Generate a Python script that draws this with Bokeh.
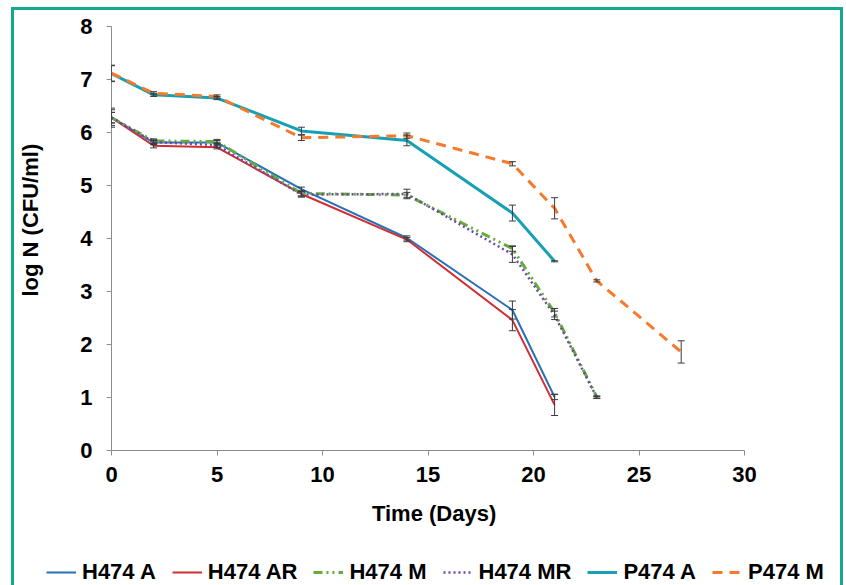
from bokeh.plotting import figure
from bokeh.models import ColumnDataSource, Whisker, TeeHead, Legend, LegendItem, FixedTicker
from bokeh.embed import file_html
from bokeh.resources import INLINE

# ---- data ----
days_h_a = [0, 2, 5, 9, 14, 19, 21]
h474_a = [6.28, 5.81, 5.81, 4.93, 4.01, 2.65, 1.01]
h474_a_err = [0.18, 0.04, 0.04, 0.04, 0.04, 0.17, 0.05]

days_h_ar = [0, 2, 5, 9, 14, 19, 21]
h474_ar = [6.28, 5.75, 5.72, 4.84, 3.98, 2.46, 0.86]
h474_ar_err = [0.15, 0.04, 0.03, 0.04, 0.04, 0.2, 0.2]

days_h_m = [0, 2, 5, 9, 14, 19, 21, 23]
h474_m = [6.28, 5.84, 5.83, 4.85, 4.82, 3.81, 2.6, 1.01]
h474_m_err = [0.1, 0.04, 0.04, 0.05, 0.05, 0.05, 0.08, 0.02]

days_h_mr = [0, 2, 5, 9, 14, 19, 21, 23]
h474_mr = [6.28, 5.82, 5.76, 4.83, 4.84, 3.7, 2.55, 1.0]
h474_mr_err = [0.1, 0.04, 0.04, 0.05, 0.09, 0.15, 0.08, 0.02]

days_p_a = [0, 2, 5, 9, 14, 19, 21]
p474_a = [7.11, 6.71, 6.65, 6.03, 5.85, 4.48, 3.57]
p474_a_err = [0.15, 0.03, 0.03, 0.07, 0.1, 0.15, 0.01]

days_p_m = [0, 2, 5, 9, 14, 19, 21, 23, 27]
p474_m = [7.12, 6.74, 6.68, 5.9, 5.94, 5.41, 4.57, 3.2, 1.86]
p474_m_err = [0.15, 0.03, 0.03, 0.05, 0.05, 0.04, 0.2, 0.02, 0.21]

x_ticks = [0, 5, 10, 15, 20, 25, 30]
y_ticks = [0, 1, 2, 3, 4, 5, 6, 7, 8]

FONT = "Liberation Sans"
FS = "22px"
BORDER = "3px solid #14A88F"
NB = "\u00a0"

p = figure(width=832, height=543, x_range=(0, 30), y_range=(0, 8),
           output_backend="svg", toolbar_location=None,
           min_border_left=97, min_border_right=102, min_border_top=16, min_border_bottom=103,
           styles={"border-top": BORDER, "border-left": BORDER, "border-right": BORDER,
                   "margin-left": "11px", "margin-top": "7px"})
p.outline_line_color = None
p.xgrid.visible = False
p.ygrid.visible = False
p.background_fill_color = "white"
p.border_fill_color = "white"

for ax, ticks in ((p.xaxis[0], x_ticks), (p.yaxis[0], y_ticks)):
    ax.ticker = FixedTicker(ticks=ticks)
    ax.axis_line_color = "#8c8c8c"
    ax.major_tick_line_color = "#8c8c8c"
    ax.major_tick_in = 0
    ax.major_tick_out = 5
    ax.minor_tick_line_color = None
    ax.major_label_text_font = FONT
    ax.major_label_text_font_size = FS
    ax.major_label_text_font_style = "bold"
    ax.major_label_text_color = "black"
    ax.axis_label_text_font = FONT
    ax.axis_label_text_font_size = FS
    ax.axis_label_text_font_style = "bold"
    ax.axis_label_text_color = "black"

p.xaxis.axis_label = NB * 2 + "Time (Days)"
p.yaxis.axis_label = NB * 6 + "log N (CFU/ml)"
p.xaxis.major_label_standoff = 11
p.yaxis.major_label_standoff = 14
p.xaxis.axis_label_standoff = 16
p.yaxis.axis_label_standoff = 34

# legend strip below the chart (its lines use the same data, drawn out of view)
p2 = figure(width=832, height=60, x_range=(100, 101), y_range=(100, 101),
            output_backend="svg", toolbar_location=None,
            x_axis_location=None, y_axis_location=None,
            min_border=0, min_border_left=0, min_border_right=0,
            min_border_top=0, min_border_bottom=0,
            styles={"border-left": BORDER, "border-right": BORDER, "margin-left": "11px"})
p2.outline_line_color = None
p2.xgrid.visible = False
p2.ygrid.visible = False
p2.background_fill_color = "white"
p2.border_fill_color = "white"

series = [
    ("H474 A", days_h_a, h474_a, h474_a_err, "#2870B8", 2, None),
    ("H474 AR", days_h_ar, h474_ar, h474_ar_err, "#D02E32", 2, None),
    ("H474 M", days_h_m, h474_m, h474_m_err, "#64AC3C", 3, "9 4 2 4 2 4"),
    ("H474 MR", days_h_mr, h474_mr, h474_mr_err, "#6E48A8", 2.5, "2 3"),
    ("P474 A", days_p_a, p474_a, p474_a_err, "#15A0B4", 3, None),
    ("P474 M", days_p_m, p474_m, p474_m_err, "#F57A2C", 3, "10 7"),
]

items = []
for name, xs, ys, errs, color, lw, dash in series:
    src = ColumnDataSource(dict(x=xs, y=ys,
                                upper=[v + e for v, e in zip(ys, errs)],
                                lower=[v - e for v, e in zip(ys, errs)]))
    kw = dict(line_color=color, line_width=lw)
    if dash:
        kw["line_dash"] = dash
    p.line("x", "y", source=src, **kw)
    r2 = p2.line("x", "y", source=src, **kw)
    items.append(LegendItem(label=name, renderers=[r2]))
    w = Whisker(source=src, base="x", upper="upper", lower="lower",
                line_color="#3a3a3a", line_width=1,
                upper_head=TeeHead(size=7, line_color="#3a3a3a", line_width=1),
                lower_head=TeeHead(size=7, line_color="#3a3a3a", line_width=1))
    w.level = "overlay"
    p.add_layout(w)

lg = Legend(items=items, location=(32, 25),
            orientation="horizontal", glyph_width=30, glyph_height=20, label_height=20,
            label_standoff=6, padding=0, margin=0, spacing=16,
            border_line_alpha=0, background_fill_alpha=0,
            label_text_font=FONT, label_text_font_size=FS,
            label_text_font_style="bold", label_text_color="black")
p2.add_layout(lg, "center")

open("out.html", "w").write(file_html([p, p2], INLINE))
